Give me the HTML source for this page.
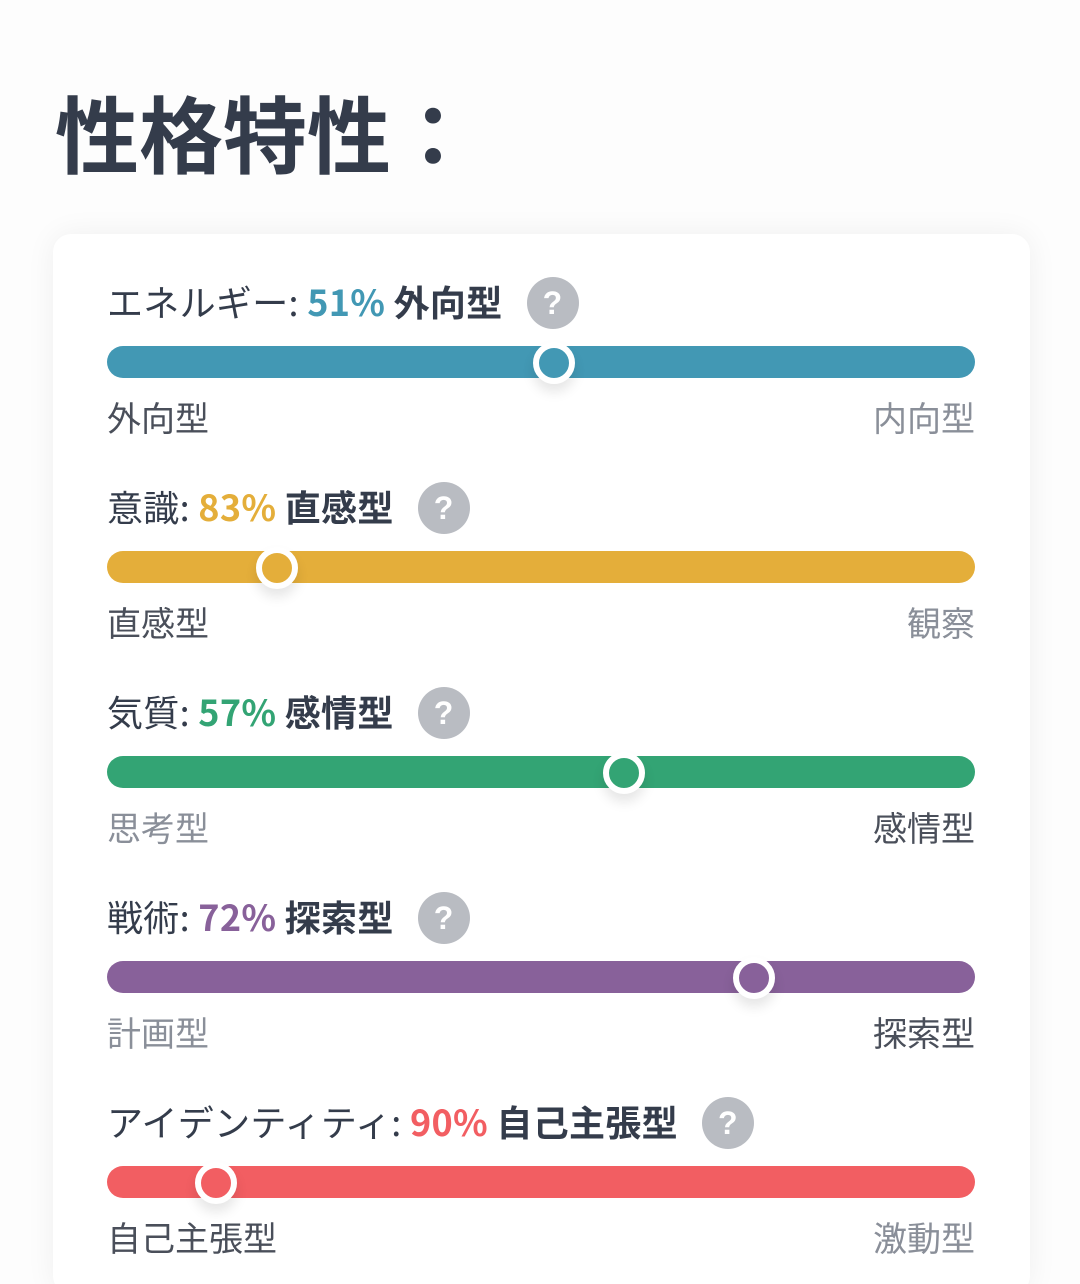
<!DOCTYPE html>
<html><head><meta charset="utf-8"><style>
html,body{margin:0;width:1080px;height:1284px;overflow:hidden}
body{background:#fdfdfd;font-family:"Noto Sans CJK JP","Liberation Sans",sans-serif;position:relative}
h1{position:absolute;left:55px;top:72px;margin:0;font-size:84px;line-height:120px;font-weight:700;color:#343c4b;letter-spacing:0}
.card{position:absolute;left:53px;top:234px;width:977px;height:1060px;background:#fff;border-radius:18px;box-shadow:0 0 30px rgba(0,0,0,0.06)}
.lab{position:absolute;left:107px;font-size:36px;color:#343c4b;white-space:nowrap;line-height:50px;letter-spacing:0.3px}
.lab b{font-weight:700}
.q{display:inline-block;width:52px;height:52px;border-radius:50%;background:#b9bcc2;color:#fff;font-weight:700;font-size:32px;text-align:center;line-height:52px;vertical-align:middle;margin-left:24px;position:relative;top:-3px;font-family:"Liberation Sans",sans-serif}
.bar{position:absolute;left:107px;width:868px;height:32px;border-radius:16px}
.knob{position:absolute;width:30px;height:30px;border:6px solid #fff;border-radius:50%;box-shadow:0 8px 12px rgba(0,0,0,0.1)}
.s{position:absolute;font-size:34px;line-height:44px}
.d{color:#4a4f5a}.g{color:#8a8f99}
</style></head><body>
<h1>性格特性：</h1>
<div class="card"></div>

<div class="lab" style="top:276px">エネルギー: <b style="color:#4298b4">51%</b> <b>外向型</b><span class="q">?</span></div>
<div class="bar" style="top:346px;background:#4298b4"></div>
<div class="knob" style="left:533px;top:342px;background:#4298b4"></div>
<div class="s d" style="left:107px;top:395px">外向型</div><div class="s g" style="right:105px;top:395px">内向型</div>

<div class="lab" style="top:481px">意識: <b style="color:#e4ae3a">83%</b> <b>直感型</b><span class="q">?</span></div>
<div class="bar" style="top:551px;background:#e4ae3a"></div>
<div class="knob" style="left:256px;top:547px;background:#e4ae3a"></div>
<div class="s d" style="left:107px;top:600px">直感型</div><div class="s g" style="right:105px;top:600px">観察</div>

<div class="lab" style="top:686px">気質: <b style="color:#33a474">57%</b> <b>感情型</b><span class="q">?</span></div>
<div class="bar" style="top:756px;background:#33a474"></div>
<div class="knob" style="left:603px;top:752px;background:#33a474"></div>
<div class="s g" style="left:107px;top:805px">思考型</div><div class="s d" style="right:105px;top:805px">感情型</div>

<div class="lab" style="top:891px">戦術: <b style="color:#88619a">72%</b> <b>探索型</b><span class="q">?</span></div>
<div class="bar" style="top:961px;background:#88619a"></div>
<div class="knob" style="left:733px;top:957px;background:#88619a"></div>
<div class="s g" style="left:107px;top:1010px">計画型</div><div class="s d" style="right:105px;top:1010px">探索型</div>

<div class="lab" style="top:1096px">アイデンティティ: <b style="color:#f25e62">90%</b> <b>自己主張型</b><span class="q">?</span></div>
<div class="bar" style="top:1166px;background:#f25e62"></div>
<div class="knob" style="left:195px;top:1162px;background:#f25e62"></div>
<div class="s d" style="left:107px;top:1215px">自己主張型</div><div class="s g" style="right:105px;top:1215px">激動型</div>
</body></html>
